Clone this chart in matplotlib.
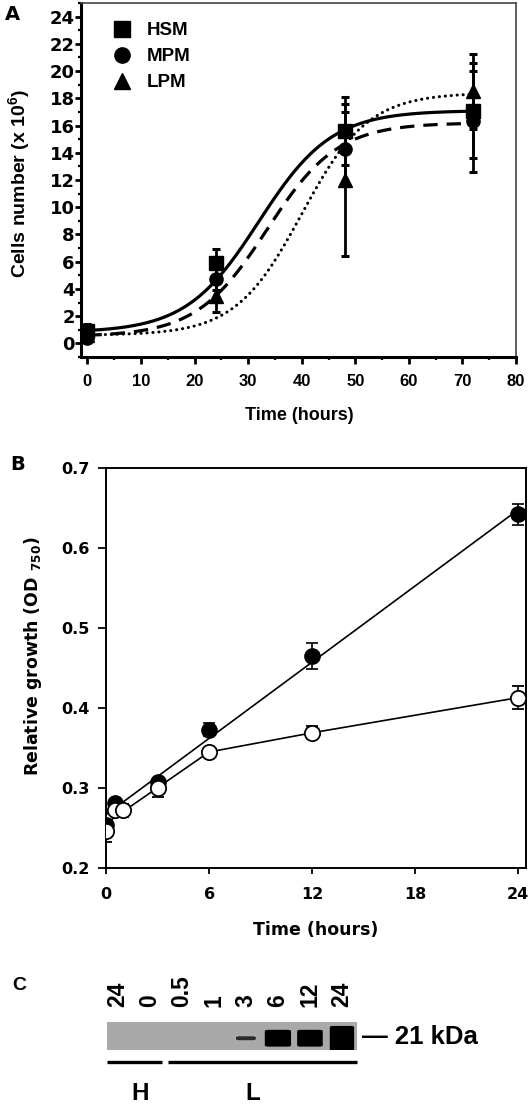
import numpy as np
import matplotlib
matplotlib.use("Agg")
import matplotlib.pyplot as plt
from matplotlib.lines import Line2D
from matplotlib.patches import FancyBboxPatch
from matplotlib.ticker import MultipleLocator
import matplotlib.transforms as mtransforms

plt.rcParams["font.family"] = ["Liberation Sans", "DejaVu Sans"]
plt.rcParams["font.weight"] = "bold"
plt.rcParams["axes.labelweight"] = "bold"
plt.rcParams["mathtext.fontset"] = "custom"
plt.rcParams["mathtext.rm"] = "Liberation Sans:bold"
plt.rcParams["mathtext.it"] = "Liberation Sans:bold"
plt.rcParams["mathtext.bf"] = "Liberation Sans:bold"

# ---- panel A: cell counts (x 10^6) ----
time_a = [0, 24, 48, 72]
hsm = [0.9, 5.9, 15.6, 17.1]
hsm_err = [0.5, 1.0, 2.5, 3.5]
mpm = [0.4, 4.7, 14.3, 16.3]
mpm_err = [0.3, 0.8, 2.7, 3.7]
lpm = [0.6, 3.5, 12.0, 18.5]
lpm_err = [0.3, 1.2, 5.6, 2.75]
# sigmoid fit parameters: bottom, top, t50, slope
hsm_fit = [0.8, 17.1, 32.0, 6.8]
mpm_fit = [0.5, 16.2, 33.5, 6.6]
lpm_fit = [0.6, 18.4, 40.0, 6.2]

# ---- panel B: relative growth (OD750) ----
time_b_filled = [0, 0.5, 3, 6, 12, 24]
od_filled = [0.254, 0.281, 0.308, 0.373, 0.465, 0.642]
od_filled_err = [0.005, 0.005, 0.005, 0.008, 0.016, 0.013]
time_b_open = [0, 0.5, 1, 3, 6, 12, 24]
od_open = [0.246, 0.273, 0.272, 0.300, 0.345, 0.369, 0.413]
od_open_err = [0.013, 0.006, 0.008, 0.011, 0.005, 0.008, 0.014]

# ---- panel C: western blot ----
lane_labels = ["24", "0", "0.5", "1", "3", "6", "12", "24"]
band_height = [0, 0, 0, 0, 0.14, 0.6, 0.6, 0.88]
band_width = [0, 0, 0, 0, 0.62, 0.82, 0.8, 0.76]
groups = [("H", 0, 1), ("L", 2, 7)]


def sigmoid(t, p):
    bottom, top, t50, slope = p
    return bottom + (top - bottom) / (1 + np.exp((t50 - t) / slope))


W, H = 531, 1104
fig = plt.figure(figsize=(W / 100, H / 100), dpi=100, facecolor="white")


def box(l, t, r, b):
    return [l / W, 1 - b / H, (r - l) / W, (b - t) / H]


# ================= A =================
ax = fig.add_axes(box(81, 3, 516, 357))
tt = np.linspace(0, 72, 300)
ax.plot(tt, sigmoid(tt, hsm_fit), color="black", lw=2.3, ls="-")
ax.plot(tt, sigmoid(tt, mpm_fit), color="black", lw=2.3, ls=(0, (4.5, 2.8)))
ax.plot(tt, sigmoid(tt, lpm_fit), color="black", lw=2.2, ls=(0, (0.05, 1.9)),
        dash_capstyle="round")

for vals, errs, mk in [(lpm, lpm_err, "^"), (mpm, mpm_err, "o"), (hsm, hsm_err, "s")]:
    ax.errorbar(time_a, vals, yerr=errs, fmt=mk, color="black", ms=9.5,
                elinewidth=2, capsize=3, capthick=2.2, zorder=3)

ax.set_xlim(-1.2, 80)
ax.set_ylim(-1, 25)
ax.xaxis.set_major_locator(MultipleLocator(10))
ax.xaxis.set_minor_locator(MultipleLocator(5))
ax.set_yticks(np.arange(0, 25, 2))
ax.yaxis.set_minor_locator(MultipleLocator(1))
ax.tick_params(axis="x", which="major", direction="out", length=5, width=2,
               labelsize=12, pad=7)
ax.tick_params(axis="y", which="major", direction="out", length=4, width=2,
               labelsize=13, pad=0.5)
ax.tick_params(which="minor", direction="out", length=2.5, width=1.6)
for lab in ax.get_yticklabels():
    lab.set_family("DejaVu Sans")
for s in ["left", "bottom"]:
    ax.spines[s].set_linewidth(2.2)
for s in ["top", "right"]:
    ax.spines[s].set_linewidth(1.2)
    ax.spines[s].set_color("#444444")
ax.set_xlabel("Time (hours)", fontsize=13)
ax.xaxis.set_label_coords(0.503, -0.142)
ax.set_ylabel("Cells number (x 10$^6$)", fontsize=14)
ax.yaxis.set_label_coords(-0.112, 0.49)

handles = [Line2D([], [], marker=m, ls="none", color="black", ms=11)
           for m in ["s", "o", "^"]]
ax.legend(handles, ["HSM", "MPM", "LPM"], loc="upper left",
          bbox_to_anchor=(0.05, 0.946), frameon=False, fontsize=13.5,
          handletextpad=0.35, labelspacing=0.47, borderaxespad=0, borderpad=0)

# ================= B =================
bx = fig.add_axes(box(106, 468, 526, 868))
fit = np.polyfit(time_b_filled, od_filled, 1)
tb = np.array([0, 24])
bx.plot(tb, np.polyval(fit, tb), color="black", lw=1.2, zorder=2)
early = [i for i, t in enumerate(time_b_open) if t <= 6]
fit_open = np.polyfit([time_b_open[i] for i in early], [od_open[i] for i in early], 1)
t_line = [0] + time_b_open[early[-1]:]
od_line = [np.polyval(fit_open, 0)] + od_open[early[-1]:]
bx.plot(t_line, od_line, color="black", lw=1.2, zorder=2)

bx.errorbar(time_b_filled, od_filled, yerr=od_filled_err, fmt="o", color="black",
            ms=11, elinewidth=1.2, capsize=4, capthick=1.2, zorder=3)
bx.errorbar(time_b_open, od_open, yerr=od_open_err, fmt="o", color="black",
            mfc="white", mec="black", mew=1.3, ms=11, elinewidth=1.2,
            capsize=4, capthick=1.2, zorder=4)

bx.set_xlim(0, 24.45)
bx.set_ylim(0.2, 0.7)
bx.set_xticks([0, 6, 12, 18, 24])
bx.set_yticks([0.2, 0.3, 0.4, 0.5, 0.6, 0.7])
bx.tick_params(axis="x", direction="out", length=4.5, width=1.3, labelsize=11.5, pad=9)
bx.tick_params(axis="y", direction="out", length=5.5, width=1.3, labelsize=11.5, pad=6.5)
for lab in bx.get_xticklabels() + bx.get_yticklabels():
    lab.set_family("DejaVu Sans")
for s in bx.spines.values():
    s.set_linewidth(1.4)
    s.set_clip_on(False)
bx.set_xlabel("Time (hours)", fontsize=12.5, family="DejaVu Sans")
bx.xaxis.set_label_coords(0.5, -0.133)
ylab = bx.set_ylabel(r"Relative growth (OD $_{\mathbf{750}}$)", fontsize=12.5,
                     family="DejaVu Sans")
ylab.set_math_fontfamily("dejavusans")
bx.yaxis.set_label_coords(-0.147, 0.53)

# ================= C =================
cx = fig.add_axes(box(107, 1022, 357, 1050))
cx.set_facecolor("#a9a9a9")
cx.set_xlim(-0.34, 7.47)
cx.set_ylim(0, 1)
for s in cx.spines.values():
    s.set_visible(False)
cx.set_xticks([])
cx.set_yticks([])
for i, (h, w) in enumerate(zip(band_height, band_width)):
    if h <= 0:
        continue
    col = "#2a2a2a" if h < 0.3 else "black"
    cx.add_patch(FancyBboxPatch((i - w / 2, 0.42 - h / 2), w, h,
                                boxstyle="round,pad=0,rounding_size=0.12",
                                mutation_aspect=1 / 3.0, fc=col, ec="none"))
trans = mtransforms.blended_transform_factory(cx.transData, cx.transAxes)
for i, lab in enumerate(lane_labels):
    cx.text(i, 1.52, lab, rotation=90, ha="center", va="bottom",
            fontsize=16.5, transform=trans)
for name, a, b in groups:
    x0 = a - 0.34 if a == 0 else a - 0.44
    x1 = b + 0.38 if b < 7 else b + 0.47
    cx.plot([x0, x1], [-0.43, -0.43], color="black", lw=2.4,
            transform=trans, clip_on=False, solid_capstyle="butt")
    cx.text((a + b) / 2 + (0.2 if a == 0 else -0.3), -1.55, name, ha="center",
            va="center", fontsize=17.5, transform=trans)
fig.text(362 / W, 1 - 1037 / H, "— 21 kDa", fontsize=18.5, ha="left", va="center")

fig.text(12 / W, 1 - 15 / H, "A", fontsize=14, ha="center", va="center",
         family="DejaVu Sans")
fig.text(18 / W, 1 - 465 / H, "B", fontsize=14, ha="center", va="center",
         family="DejaVu Sans")
fig.text(19 / W, 1 - 985 / H, "C", fontsize=14, ha="center", va="center")

fig.savefig("out.png", dpi=100, facecolor="white")
